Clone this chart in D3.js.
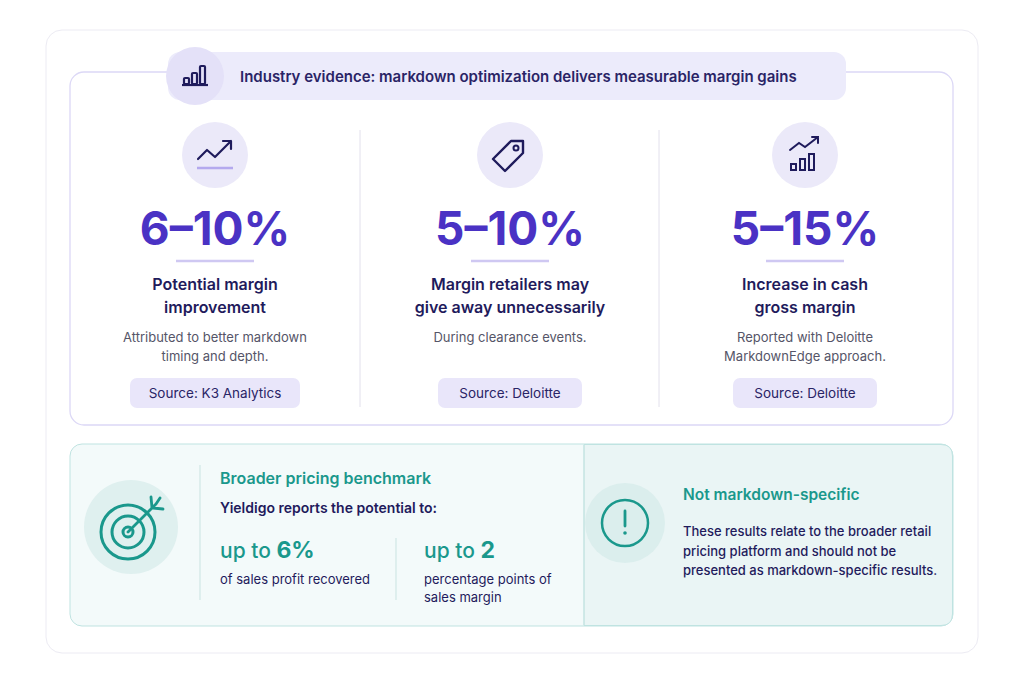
<!DOCTYPE html>
<html><head><meta charset="utf-8">
<script src="https://cdn.jsdelivr.net/npm/d3@7"></script>
<style>body{margin:0;background:#fff}svg{display:block;font-family:Inter,"Noto Sans",sans-serif}</style>
</head><body><svg id="c" width="1024" height="683"></svg>
<script>
const title = "Industry evidence: markdown optimization delivers measurable margin gains";
const statValues = ["6–10%", "5–10%", "5–15%"];
const statLabels = [["Potential margin", "improvement"], ["Margin retailers may", "give away unnecessarily"], ["Increase in cash", "gross margin"]];
const statDescs = [["Attributed to better markdown", "timing and depth."], ["During clearance events."], ["Reported with Deloitte", "MarkdownEdge approach."]];
const statSources = ["Source: K3 Analytics", "Source: Deloitte", "Source: Deloitte"];
const statIcons = ["trend", "tag", "bars"];
const benchTitle = "Broader pricing benchmark";
const benchIntro = "Yieldigo reports the potential to:";
const benchValues = [["up to ", "6%"], ["up to ", "2"]];
const benchLabels = [["of sales profit recovered"], ["percentage points of", "sales margin"]];
const noteTitle = "Not markdown-specific";
const noteLines = ["These results relate to the broader retail", "pricing platform and should not be", "presented as markdown-specific results."];

const svg = d3.select("#c");
const purple = "#4a32c4", navy = "#1f1b5c", teal = "#1a988c";

svg.append("rect").attr("x",46).attr("y",30).attr("width",932).attr("height",623).attr("rx",16)
  .attr("fill","#fff").attr("stroke","#ecebf3");
svg.append("rect").attr("x",70).attr("y",72).attr("width",883).attr("height",353).attr("rx",14)
  .attr("fill","#fff").attr("stroke","#dcd8f6").attr("stroke-width",1.3);
// header pill
svg.append("rect").attr("x",168).attr("y",52).attr("width",678).attr("height",48).attr("rx",12).attr("fill","#ecebfb");
svg.append("circle").attr("cx",195).attr("cy",76).attr("r",29).attr("fill","#e4e1f8");
function barsIcon(g, cx, cy, s){
  const xs=[-11,-3,5], hs=[6,11,18];
  xs.forEach((x,i)=>g.append("rect").attr("x",cx+x*s).attr("y",cy+(8-hs[i])*s).attr("width",5*s).attr("height",hs[i]*s)
    .attr("fill","none").attr("stroke",navy).attr("stroke-width",2.2).attr("rx",1));
  g.append("line").attr("x1",cx-13*s).attr("x2",cx+13*s).attr("y1",cy+9*s).attr("y2",cy+9*s).attr("stroke",navy).attr("stroke-width",2.2);
}
barsIcon(svg.append("g"),195,76,1);
svg.append("text").attr("x",240).attr("y",82).attr("font-size",15).attr("font-weight",600).attr("fill","#2a2466").text(title);

const x = d3.scaleBand().domain(d3.range(3)).range([70,953]).paddingInner(0.0).paddingOuter(0.02);
const cx = i => x(i)+x.bandwidth()/2;
[360,659].forEach(v=>svg.append("line").attr("x1",v).attr("x2",v).attr("y1",130).attr("y2",407).attr("stroke","#e2e0ec"));
const cols = svg.selectAll("g.col").data(statValues).join("g").attr("class","col")
  .attr("transform",(d,i)=>`translate(${[215,510,805][i]},0)`);
cols.append("circle").attr("cy",155).attr("r",33).attr("fill","#ebe9f9");
cols.each(function(d,i){
  const g=d3.select(this), k=statIcons[i];
  if(k==="trend"){
    g.append("path").attr("d","M-17,8 L-8,-1 L0,6 L16,-10 M8,-10 L16,-10 L16,-2").attr("fill","none").attr("stroke",navy).attr("stroke-width",2.2).attr("stroke-linejoin","round").attr("stroke-linecap","round").attr("transform","translate(0,151)");
    g.append("line").attr("x1",-18).attr("x2",18).attr("y1",168).attr("y2",168).attr("stroke","#b4a9ee").attr("stroke-width",2.5);
  } else if(k==="tag"){
    g.append("path").attr("d","M-17,4 L1,-14 L13,-14 L13,-2 L-5,16 Z").attr("fill","none").attr("stroke",navy).attr("stroke-width",2.4).attr("stroke-linejoin","round").attr("transform","translate(0,155) rotate(0)");
    g.append("circle").attr("cx",6).attr("cy",148).attr("r",2.5).attr("fill","none").attr("stroke",navy).attr("stroke-width",2);
  } else {
    const xs=[-14,-5,4], hs=[6,11,16];
    xs.forEach((xx,j)=>g.append("rect").attr("x",xx).attr("y",170-hs[j]).attr("width",5).attr("height",hs[j]).attr("fill","none").attr("stroke",navy).attr("stroke-width",2));
    g.append("path").attr("d","M-15,150 L-6,143 L0,147 L13,137 M7,137 L13,137 L13,143").attr("fill","none").attr("stroke",navy).attr("stroke-width",2).attr("stroke-linecap","round");
  }
});
cols.append("text").attr("y",245).attr("text-anchor","middle").attr("font-size",46).attr("font-weight",700).attr("fill",purple).text(d=>d);
cols.append("line").attr("x1",-39).attr("x2",39).attr("y1",261).attr("y2",261).attr("stroke","#cfc8f2").attr("stroke-width",2.5);
cols.each(function(d,i){
  const g=d3.select(this);
  statLabels[i].forEach((t,j)=>g.append("text").attr("y",290+j*23).attr("text-anchor","middle").attr("font-size",16).attr("font-weight",600).attr("fill",navy).text(t));
  statDescs[i].forEach((t,j)=>g.append("text").attr("y",342+j*19).attr("text-anchor","middle").attr("font-size",13).attr("fill","#555568").text(t));
});
cols.append("rect").attr("x",-85).attr("y",378).attr("width",170).attr("height",30).attr("rx",7).attr("fill","#e9e6fa")
  .attr("width",(d,i)=>i===0?170:144).attr("x",(d,i)=>i===0?-85:-72);
cols.append("text").attr("y",398).attr("text-anchor","middle").attr("font-size",13.5).attr("fill","#2a2466").text((d,i)=>statSources[i]);

// bottom panel
svg.append("rect").attr("x",70).attr("y",444).attr("width",883).attr("height",182).attr("rx",12).attr("fill","#f3fafa").attr("stroke","#bfe3e1");
svg.append("path").attr("d","M584,444.5 L941,444.5 Q952.5,444.5 952.5,456 L952.5,614 Q952.5,625.5 941,625.5 L584,625.5 Z").attr("fill","#eaf5f5").attr("stroke","#bfe3e1");
svg.append("line").attr("x1",584).attr("x2",584).attr("y1",445).attr("y2",625).attr("stroke","#c6e4e2");
svg.append("circle").attr("cx",131).attr("cy",527).attr("r",47).attr("fill","#dff0ef");
[27,16,5].forEach(r=>svg.append("circle").attr("cx",128).attr("cy",532).attr("r",r).attr("fill","none").attr("stroke",teal).attr("stroke-width",3));
svg.append("path").attr("d","M128,532 L156,504 M151,497 L152,508 L163,509 M156,504 L160,498").attr("fill","none").attr("stroke",teal).attr("stroke-width",2.8).attr("stroke-linecap","round");
svg.append("line").attr("x1",200).attr("x2",200).attr("y1",465).attr("y2",600).attr("stroke","#c9e3e1");
svg.append("line").attr("x1",396).attr("x2",396).attr("y1",538).attr("y2",600).attr("stroke","#c9e3e1");
svg.append("text").attr("x",220).attr("y",484).attr("font-size",16).attr("font-weight",600).attr("fill",teal).text(benchTitle);
svg.append("text").attr("x",220).attr("y",513).attr("font-size",14).attr("font-weight",600).attr("fill",navy).text(benchIntro);
const bx=[220,424];
benchValues.forEach((v,i)=>{
  const t=svg.append("text").attr("x",bx[i]).attr("y",558).attr("fill",teal);
  t.append("tspan").attr("font-size",21).attr("font-weight",500).text(v[0]);
  t.append("tspan").attr("font-size",23).attr("font-weight",700).text(v[1]);
  benchLabels[i].forEach((l,j)=>svg.append("text").attr("x",bx[i]).attr("y",584+j*18).attr("font-size",13).attr("fill",navy).text(l));
});
svg.append("circle").attr("cx",625).attr("cy",523).attr("r",40).attr("fill","#dbeeed");
svg.append("circle").attr("cx",625).attr("cy",523).attr("r",23).attr("fill","none").attr("stroke",teal).attr("stroke-width",2.5);
svg.append("line").attr("x1",625).attr("x2",625).attr("y1",511).attr("y2",526).attr("stroke",teal).attr("stroke-width",2.8).attr("stroke-linecap","round");
svg.append("circle").attr("cx",625).attr("cy",533).attr("r",1.8).attr("fill",teal);
svg.append("text").attr("x",683).attr("y",500).attr("font-size",15.5).attr("font-weight",600).attr("fill",teal).text(noteTitle);
noteLines.forEach((l,j)=>svg.append("text").attr("x",683).attr("y",536+j*19.5).attr("font-size",13).attr("font-weight",500).attr("fill",navy).text(l));
</script></body></html>
